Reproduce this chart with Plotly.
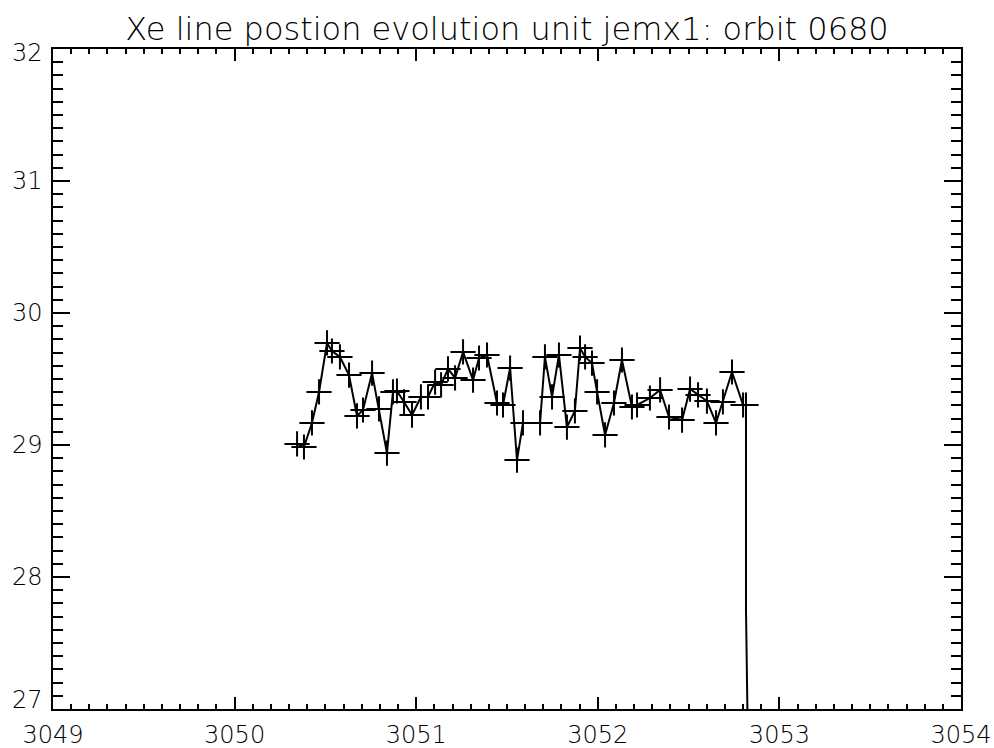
import plotly.graph_objects as go

# Xe line centroid position per science window (revolution number vs channel)
rev = [
    3050.344, 3050.382, 3050.426, 3050.465, 3050.509, 3050.536, 3050.580, 3050.630,
    3050.674, 3050.707, 3050.757, 3050.795, 3050.839, 3050.872,
    3050.894, 3050.933, 3050.977, 3051.026, 3051.065, 3051.104, 3051.137, 3051.175,
    3051.214, 3051.258, 3051.313, 3051.346, 3051.390, 3051.445, 3051.478,
    3051.517, 3051.555, 3051.588, 3051.682, 3051.709, 3051.748, 3051.786, 3051.830,
    3051.874, 3051.902, 3051.930, 3051.968, 3051.996, 3052.040, 3052.089,
    3052.133, 3052.188, 3052.216, 3052.287, 3052.343, 3052.392, 3052.464, 3052.508,
    3052.552, 3052.601, 3052.651, 3052.689, 3052.739, 3052.800, 3052.816,
]
position = [
    29.008, 28.985, 29.167, 29.402, 29.773, 29.712, 29.667, 29.530,
    29.220, 29.265, 29.545, 29.273, 28.939, 29.402,
    29.409, 29.326, 29.227, 29.364, 29.364, 29.477, 29.455, 29.576,
    29.508, 29.705, 29.492, 29.659, 29.682, 29.318, 29.303,
    29.583, 28.886, 29.167, 29.167, 29.667, 29.364, 29.682, 29.136,
    29.258, 29.735, 29.667, 29.621, 29.402, 29.076, 29.318,
    29.644, 29.288, 29.303, 29.356, 29.417, 29.212, 29.189, 29.424,
    29.379, 29.333, 29.167, 29.326, 29.553, 29.303, 29.303,
]
# trailing readings that fall off the bottom of the range (no symbol drawn)
tail_rev = [3052.816, 3052.829]
tail_position = [27.75, 26.5]

x_ticks = [3049, 3050, 3051, 3052, 3053, 3054]
y_ticks = [27, 28, 29, 30, 31, 32]

FONT = "DejaVu Sans"
TICK_FONT = dict(family=FONT, size=24, weight=300, color="black")
# end labels on the value axis are kept inside the frame's height
Y_LABEL_NUDGE = {27: 9, 32: -4}

fig = go.Figure()

fig.add_trace(go.Scatter(
    x=rev + tail_rev, y=position + tail_position,
    mode="lines",
    line=dict(color="black", width=2),
    hoverinfo="skip",
))
fig.add_trace(go.Scatter(
    x=rev, y=position,
    mode="markers",
    marker=dict(symbol="cross-thin", size=18, line=dict(color="black", width=2)),
))

axis_common = dict(
    showgrid=False, zeroline=False, automargin=False,
    showline=True, linecolor="black", linewidth=2,
    mirror="allticks", ticks="inside", tickcolor="black", tickwidth=2,
    tickfont=TICK_FONT,
)

fig.update_xaxes(
    range=[3049, 3054], tickvals=x_ticks, ticktext=[str(v) for v in x_ticks],
    ticklen=12, ticklabelstandoff=3,
    minor=dict(dtick=0.1, ticks="inside", ticklen=5, tickcolor="black", tickwidth=2),
    **axis_common,
)
fig.update_yaxes(
    range=[27, 32], tickvals=y_ticks, showticklabels=False,
    ticklen=17,
    minor=dict(dtick=0.1, ticks="inside", ticklen=10, tickcolor="black", tickwidth=2),
    **axis_common,
)

# value-axis labels
for v in y_ticks:
    fig.add_annotation(
        x=0, xref="paper", xanchor="right", xshift=-8,
        y=v, yref="y", yanchor="middle", yshift=Y_LABEL_NUDGE.get(v, 0),
        text=str(v), showarrow=False, font=TICK_FONT,
    )

fig.update_layout(
    width=994, height=748,
    margin=dict(l=53, r=33, t=49, b=39),
    paper_bgcolor="white", plot_bgcolor="white",
    showlegend=False,
    title=dict(
        text="Xe line postion evolution unit jemx1: orbit 0680",
        x=0.5, xref="paper", xanchor="center",
        y=1 - 29 / 748, yref="container", yanchor="middle",
        font=dict(family=FONT, size=32, weight=200, color="black"),
    ),
)

fig.write_html("out.html")
